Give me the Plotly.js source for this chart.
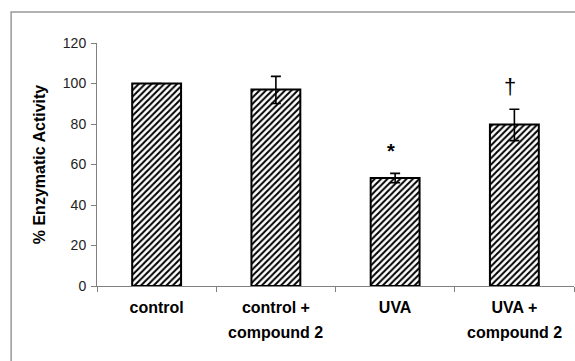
<!DOCTYPE html>
<html>
<head>
<meta charset="utf-8">
<script src="https://cdn.plot.ly/plotly-3.0.1.min.js"></script>
<style>html,body{margin:0;padding:0;background:#fff;}#chart{width:575px;height:361px;}</style>
</head>
<body>
<div id="chart"></div>
<script>
var categories = ["control", "control + compound 2", "UVA", "UVA + compound 2"];
var labelLine1 = ["control", "control +", "UVA", "UVA +"];
var labelLine2 = ["", "compound 2", "", "compound 2"];
var activity = [100, 97, 53.3, 79.7];
var errorPlus = [0, 6.5, 2.3, 7.6];
var errorMinus = [0, 6.9, 2.3, 7.9];
var markText = ["", "", "*", "\u2020"];
var markY = [0, 0, 66.7, 98.6];
var yTicks = [0, 20, 40, 60, 80, 100, 120];

var trace = {
  type: "bar",
  x: categories,
  y: activity,
  width: 0.41,
  marker: {
    color: "white",
    line: {color: "black", width: 2},
    pattern: {shape: "/", fgcolor: "black", bgcolor: "white", size: 4.5, solidity: 0.45}
  },
  error_y: {
    type: "data", symmetric: false, array: errorPlus, arrayminus: errorMinus,
    color: "black", thickness: 1.6, width: 5
  },
  hoverinfo: "none"
};

var annotations = [];
for (var i = 0; i < categories.length; i++) {
  if (labelLine2[i]) {
    annotations.push({
      x: categories[i], xref: "x", y: 0, yref: "paper", yanchor: "middle",
      yshift: -46, text: labelLine2[i], showarrow: false,
      font: {family: "Arial, Liberation Sans, sans-serif", size: 16, color: "black", weight: "bold"}
    });
  }
  if (markText[i]) {
    var isStar = markText[i] === "*";
    annotations.push({
      x: categories[i], xref: "x", y: markY[i], yref: "y", yanchor: "middle",
      xshift: -4, text: markText[i], showarrow: false,
      font: {family: "Arial, Liberation Sans, sans-serif", size: isStar ? 20 : 22, color: "black", weight: isStar ? "bold" : "normal"}
    });
  }
}

var layout = {
  width: 575, height: 361,
  margin: {l: 97, r: 1, t: 43, b: 75},
  paper_bgcolor: "white", plot_bgcolor: "white",
  showlegend: false,
  bargap: 0.59,
  xaxis: {
    type: "category",
    tickmode: "array", tickvals: categories, ticktext: labelLine1,
    tickson: "boundaries", ticks: "outside", ticklen: 5, tickcolor: "#808080", tickwidth: 1,
    showline: true, linecolor: "#808080", linewidth: 1,
    showgrid: false, zeroline: false,
    tickfont: {family: "Arial, Liberation Sans, sans-serif", size: 16, color: "black", weight: "bold"},
    ticklabelstandoff: 7,
    fixedrange: true
  },
  yaxis: {
    range: [0, 120], tickmode: "array", tickvals: yTicks,
    ticks: "outside", ticklen: 5, tickcolor: "#808080", tickwidth: 1,
    showline: true, linecolor: "#808080", linewidth: 1,
    showgrid: false, zeroline: false,
    tickfont: {family: "Arial, Liberation Sans, sans-serif", size: 14, color: "#222"},
    ticklabelstandoff: 2,
    title: {text: "% Enzymatic Activity", standoff: 13,
      font: {family: "Arial, Liberation Sans, sans-serif", size: 16, color: "black", weight: "bold"}},
    fixedrange: true
  },
  shapes: [{
    type: "rect", xref: "paper", yref: "paper",
    x0: -0.18, x1: 1.3, y0: -0.6, y1: 1.1276,
    line: {color: "#999999", width: 1.5}, layer: "below"
  }],
  annotations: annotations
};

Plotly.newPlot("chart", [trace], layout, {displayModeBar: false, staticPlot: true});
</script>
</body>
</html>
